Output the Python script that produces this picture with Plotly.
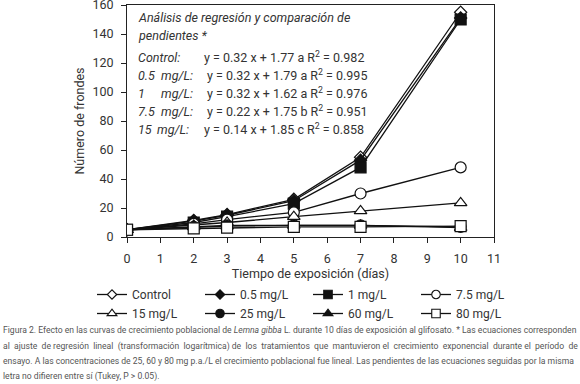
import plotly.graph_objects as go

dias = [0, 2, 3, 5, 7, 10]
series_names = ["Control", "0.5 mg/L", "1 mg/L", "7.5 mg/L",
                "15 mg/L", "25 mg/L", "60 mg/L", "80 mg/L"]
control = [5, 11.5, 15.5, 26, 55, 155]
c05 = [5, 11, 15, 25, 53, 151]
c1 = [5, 10, 14, 23, 48, 150]
c75 = [5, 9, 12, 17, 30, 48]
c15 = [5, 8, 10, 14, 18, 23.5]
c25 = [5, 7, 8, 8, 8, 7]
c60 = [5, 7, 7.5, 8, 8, 6.5]
c80 = [5, 6, 6.5, 7, 7, 7.5]
symbols = ["diamond", "diamond", "square", "circle",
           "triangle-up", "circle", "triangle-up", "square"]
filled = [False, True, True, False, False, True, True, False]
values = [control, c05, c1, c75, c15, c25, c60, c80]

x_ticks = list(range(0, 12))
y_ticks = list(range(0, 161, 20))

eq_nums = ["Control:", "0.5", "1", "7.5", "15"]
eq_units = ["", "mg/L:", "mg/L:", "mg/L:", "mg/L:"]
eq_texts = ["y = 0.32 x + 1.77 a R<sup>2</sup> = 0.982",
            "y = 0.32 x + 1.79 a R<sup>2</sup> = 0.995",
            "y = 0.32 x + 1.62 a R<sup>2</sup> = 0.976",
            "y = 0.22 x + 1.75 b R<sup>2</sup> = 0.951",
            "y = 0.14 x + 1.85 c R<sup>2</sup> = 0.858"]
caption_lines = [
    "Figura 2. Efecto en las curvas de crecimiento poblacional de <i>Lemna gibba</i> L. durante 10 días de exposición al glifosato. * Las ecuaciones corresponden",
    "al ajuste de regresión lineal (transformación logarítmica) de los tratamientos que mantuvieron el crecimiento exponencial durante el período de",
    "ensayo. A las concentraciones de 25, 60 y 80 mg p.a./L el crecimiento poblacional fue lineal. Las pendientes de las ecuaciones seguidas por la misma",
    "letra no difieren entre sí (Tukey, P &gt; 0.05).",
]
# extra spaces to spread each caption line towards full (justified) width
caption_extra = [0, 14, 0, 0]

FONT = "Roboto, Liberation Sans, sans-serif"
TXT = "#333333"
INK = "#111111"
W, H = 580, 384
L, R, T, B = 127, 86, 5, 147
PW, PH = W - L - R, H - T - B

def px(x):
    return (x - L) / PW

def py(y):
    return (H - B - y) / PH

def justify(line, extra):
    words = line.split(" ")
    gaps = len(words) - 1
    if extra <= 0 or gaps <= 0:
        return line
    out = words[0]
    given = 0
    for i in range(1, len(words)):
        target = round(extra * i / gaps)
        n = target - given
        given = target
        out += " " + "&#160;" * n + words[i]
    return out

def msize(sym, base):
    return base * 0.85 if sym == "diamond" else base

fig = go.Figure()
for name, vals, sym, fl in zip(series_names, values, symbols, filled):
    fig.add_trace(go.Scatter(
        x=dias, y=vals, name=name, mode="lines+markers", showlegend=False,
        line=dict(color=INK, width=1.3),
        marker=dict(symbol=sym, size=msize(sym, 11), color=INK if fl else "white",
                    line=dict(color=INK, width=1.2)),
    ))
# legend entries (smaller symbols than the plotted markers, as in the original)
for name, sym, fl in zip(series_names, symbols, filled):
    fig.add_trace(go.Scatter(
        x=[None], y=[None], name=name, mode="lines+markers", showlegend=True,
        line=dict(color=INK, width=1.3),
        marker=dict(symbol=sym, size=msize(sym, 8.5), color=INK if fl else "white",
                    line=dict(color=INK, width=1.1)),
    ))

annotations = []
def add(x, y, text, size=12.5, color=TXT):
    annotations.append(dict(x=px(x), y=py(y), text=text, xref="paper", yref="paper",
                            xanchor="left", yanchor="middle", showarrow=False,
                            font=dict(family=FONT, size=size, color=color)))

add(136, 18, "<i>Análisis de regresión y comparación de</i>")
add(136, 36, "<i>pendientes *</i>")
rows = [57, 75, 93, 111, 129]
eq_x = [202, 205, 205, 205, 202]
unit_x = [0, 159, 159, 159, 155]
for num, unit, eq, yy, ex, ux in zip(eq_nums, eq_units, eq_texts, rows, eq_x, unit_x):
    add(136, yy, "<i>" + num + "</i>")
    if unit:
        add(ux, yy, "<i>" + unit + "</i>")
    add(ex, yy, eq)

cap_y = [330, 346, 361, 376]
for line, extra, yy in zip(caption_lines, caption_extra, cap_y):
    add(1, yy, justify(line, extra), size=8.6, color="#555555")

fig.update_layout(
    width=W, height=H, margin=dict(l=L, r=R, t=T, b=B, autoexpand=False),
    paper_bgcolor="white", plot_bgcolor="white",
    font=dict(family=FONT, size=12, color=TXT),
    showlegend=True,
    legend=dict(orientation="h", x=px(92), y=py(280), xanchor="left", yanchor="top",
                entrywidth=63, font=dict(family=FONT, size=12, color=TXT),
                tracegroupgap=0),
    annotations=annotations,
    xaxis=dict(range=[0, 11], tickvals=x_ticks, ticks="outside", ticklen=5,
               showgrid=False, zeroline=False, showline=True, linecolor="#222",
               linewidth=1, mirror=True, tickcolor="#222", ticklabelstandoff=5,
               title=dict(text="Tiempo de exposición (días)", standoff=0,
                          font=dict(size=12.5)),
               tickfont=dict(size=12.5)),
    yaxis=dict(range=[0, 160], tickvals=y_ticks, ticks="outside", ticklen=5,
               showgrid=False, zeroline=False, showline=True, linecolor="#222",
               linewidth=1, mirror=True, tickcolor="#222", ticklabelstandoff=5,
               ticklabeloverflow="allow",
               title=dict(text="Número de frondes", standoff=5, font=dict(size=12.5)),
               tickfont=dict(size=12.5)),
)
fig.write_html("out.html", config={"displayModeBar": False},
               post_script="document.body.style.margin='0';")
